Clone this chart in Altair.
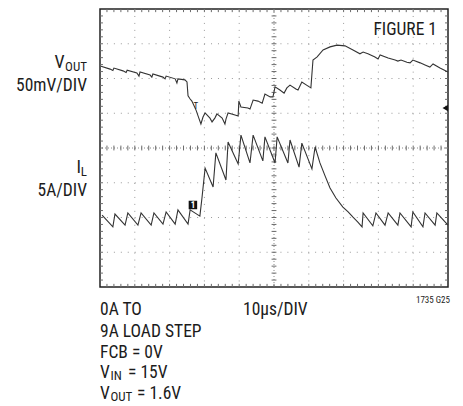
import altair as alt
import pandas as pd
import numpy as np

# ---- data (time in µs, 10 µs/div; traces in divisions from screen centre) ----
t_vout = [0.3, 2.9, 3.7, 4.0, 6.6, 7.5, 7.8, 10.6, 11.2, 11.5, 14.4, 14.9, 15.2, 18.1, 18.7, 19.0,
          21.6, 22.1, 22.4, 24.4, 25.0, 25.3, 25.9, 26.4, 26.7, 27.6, 28.4, 29.0, 29.6, 30.2, 31.6,
          32.2, 33.0, 33.6, 35.1, 35.9, 36.2, 36.8, 38.8, 39.7, 39.9, 40.5, 42.5, 43.1, 44.0, 45.4,
          46.6, 47.4, 48.9, 49.7, 50.3, 51.7, 52.9, 53.7, 54.6, 56.3, 56.9, 58.0, 59.8, 60.6, 61.2,
          62.4, 64.1, 66.1, 68.1, 70.4, 72.7, 74.7, 75.6, 77.0, 79.0, 79.9, 80.5, 82.8, 84.8, 85.6,
          86.5, 88.2, 89.1, 89.9, 92.0, 93.4, 94.8, 95.7, 97.7, 100.0]
vout = [2.35, 2.27, 2.23, 2.30, 2.22, 2.17, 2.24, 2.16, 2.07, 2.19, 2.10, 2.04, 2.13, 2.04, 1.99, 2.07,
        1.99, 1.87, 1.99, 1.96, 1.90, 1.50, 1.41, 1.35, 1.29, 1.09, 0.86, 0.69, 0.89, 1.01, 0.86,
        0.75, 0.86, 0.98, 0.86, 0.69, 0.83, 1.01, 0.95, 0.92, 1.35, 1.18, 1.15, 1.12, 1.38, 1.35,
        1.29, 1.55, 1.47, 1.47, 1.76, 1.67, 1.58, 1.73, 1.81, 1.70, 1.67, 1.90, 1.78, 1.73, 2.53,
        2.62, 2.82, 2.91, 2.96, 2.94, 2.82, 2.71, 2.76, 2.71, 2.62, 2.56, 2.68, 2.59, 2.53, 2.50,
        2.53, 2.47, 2.45, 2.53, 2.45, 2.39, 2.33, 2.42, 2.30, 2.19]

t_il = [0.6, 3.7, 4.3, 7.2, 8.0, 10.9, 11.8, 14.7, 15.5, 18.1, 19.0, 21.6, 22.4, 25.3, 25.9, 28.7,
        29.3, 30.2, 32.5, 33.3, 36.2, 36.8, 39.7, 40.5, 43.1, 44.0, 46.8, 47.4, 50.3, 50.9, 54.0,
        54.6, 57.2, 58.0, 60.9, 61.8, 63.2, 64.7, 66.1, 67.8, 69.8, 71.3, 72.7, 74.1, 75.3, 75.6,
        78.4, 79.3, 81.9, 82.8, 85.6, 86.2, 89.4, 89.9, 92.8, 93.4, 96.3, 96.8, 100.0]
il = [-1.93, -2.27, -1.90, -2.22, -1.87, -2.22, -1.87, -2.22, -1.87, -2.19, -1.84, -2.19, -1.78, -2.19,
      -1.78, -1.96, -1.44, -0.58, -1.12, -0.14, -0.92, 0.17, -0.46, 0.37, -0.43, 0.37, -0.37, 0.32,
      -0.43, 0.32, -0.43, 0.23, -0.55, 0.14, -0.60, 0.03, -0.43, -0.81, -1.15, -1.44, -1.70, -1.84,
      -1.99, -2.13, -2.27, -1.87, -2.24, -1.87, -2.22, -1.87, -2.22, -1.87, -2.27, -1.84, -2.27,
      -1.87, -2.22, -1.87, -2.22]

major_x = [10, 20, 30, 40, 60, 70, 80, 90]
major_y = [-3, -2, -1, 1, 2, 3]
trig_marker = {"t": [26.9], "v": [1.22], "s": ["T"]}
ch2_marker = {"t": [26.7], "v": [-1.64]}
ch1_ground = {"t": [99.2], "v": [1.15]}

FONT = "Liberation Sans Narrow, Roboto Condensed, Arial Narrow, Liberation Sans, sans-serif"
INK = "#1c1c1c"
TRACE = "#333333"
W, H = 348, 278
FS, SUB = 17.5, 13

XS = alt.Scale(domain=[0, 100], nice=False, zero=False)
YS = alt.Scale(domain=[-4, 4], nice=False, zero=False)


def X(f):
    return alt.X(f, type="quantitative", scale=XS, axis=None)


def Y(f):
    return alt.Y(f, type="quantitative", scale=YS, axis=None)


# grid
vgrid = alt.Chart(pd.DataFrame({"x": major_x})).mark_rule(
    color="#9a9a9a", strokeDash=[1, 5.96], strokeWidth=1).encode(x=X("x"))
hgrid = alt.Chart(pd.DataFrame({"y": major_y})).mark_rule(
    color="#9a9a9a", strokeDash=[1, 5.94], strokeWidth=1).encode(y=Y("y"))
cx = alt.Chart(pd.DataFrame({"x": [50]})).mark_rule(
    color="#8a8a8a", strokeDash=[1, 2], strokeWidth=1).encode(x=X("x"))
cy = alt.Chart(pd.DataFrame({"y": [0]})).mark_rule(
    color="#8a8a8a", strokeDash=[1, 2], strokeWidth=1).encode(y=Y("y"))

# minor tick segments (centre cross and frame)
mx = np.round(np.arange(2, 100, 2), 3)
my = np.round(np.arange(-3.8, 4.0, 0.2), 3)
rows = []
for v in mx:
    rows.append((v, v, -0.07, 0.07))          # centre horizontal line
    rows.append((v, v, -4.0, -3.91))          # bottom frame
    rows.append((v, v, 4.0, 3.91))            # top frame
for v in my:
    rows.append((49.3, 50.7, v, v))          # centre vertical line
    rows.append((0.0, 0.85, v, v))           # left frame
    rows.append((100.0, 99.15, v, v))        # right frame
ticks_df = pd.DataFrame(rows, columns=["x", "x2", "y", "y2"])
ticks = alt.Chart(ticks_df).mark_rule(color="#6a6a6a", strokeWidth=1).encode(
    x=X("x"), x2="x2", y=Y("y"), y2="y2")

# traces
vdf = pd.DataFrame({"t": t_vout, "v": vout, "i": range(len(t_vout))})
idf = pd.DataFrame({"t": t_il, "v": il, "i": range(len(t_il))})
vline = alt.Chart(vdf).mark_line(color=TRACE, strokeWidth=1.1).encode(
    x=X("t"), y=Y("v"), order="i:Q")
iline = alt.Chart(idf).mark_line(color=TRACE, strokeWidth=1.1).encode(
    x=X("t"), y=Y("v"), order="i:Q")

# markers
tmark = alt.Chart(pd.DataFrame(trig_marker)).mark_text(
    font=FONT, fontSize=9, color=INK, align="left", baseline="middle").encode(
    x=X("t"), y=Y("v"), text="s:N")
box = alt.Chart(pd.DataFrame(ch2_marker)).mark_square(
    size=72, color="#111", opacity=1, filled=True).encode(x=X("t"), y=Y("v"))
box_txt = alt.Chart(pd.DataFrame({**ch2_marker, "s": ["1"]})).mark_text(
    font=FONT, fontSize=9, color="white", fontWeight="bold", baseline="middle").encode(
    x=X("t"), y=Y("v"), text="s:N")
gnd = alt.Chart(pd.DataFrame(ch1_ground)).mark_point(
    shape="triangle-left", size=40, filled=True, color="#111", opacity=1).encode(
    x=X("t"), y=Y("v"))


def label(txt, x, y, size=FS, align="left"):
    return alt.Chart(pd.DataFrame({"s": [txt]})).mark_text(
        font=FONT, fontSize=size, color=INK, align=align, baseline="alphabetic").encode(
        text="s:N", x=alt.value(x), y=alt.value(y))


labels = [
    label("FIGURE 1", 337, 26, FS, "right"),
    label("V", -35.5, 59, FS + 0.5, "right"),
    label("OUT", -13, 62, SUB, "right"),
    label("50mV/DIV", -13, 82, FS, "right"),
    label("I", -19, 164, FS + 0.5, "right"),
    label("L", -13, 167, SUB, "right"),
    label("5A/DIV", -13, 187, FS, "right"),
    label("0A TO", 0, 306, FS),
    label("10µs/DIV", 143, 306, FS),
    label("1735 G25", 350, 294, 9, "right"),
    label("9A LOAD STEP", 0, 328, FS),
    label("FCB = 0V", 0, 349, FS),
    label("V", 0, 369, FS),
    label("IN", 10.5, 371, SUB),
    label("= 15V", 28, 369, FS),
    label("V", 0, 390, FS),
    label("OUT", 10.5, 392, SUB),
    label("= 1.6V", 37, 390, FS),
]

chart = alt.layer(
    vgrid, hgrid, cx, cy, ticks, vline, iline, tmark, box, box_txt, gnd, *labels
).properties(
    width=W, height=H,
    padding={"left": 92, "top": 1, "right": 7, "bottom": 118},
    autosize="none",
).configure_view(stroke="#222", strokeWidth=1.5)

chart.save("out.html", embed_options={"renderer": "svg", "actions": False})
